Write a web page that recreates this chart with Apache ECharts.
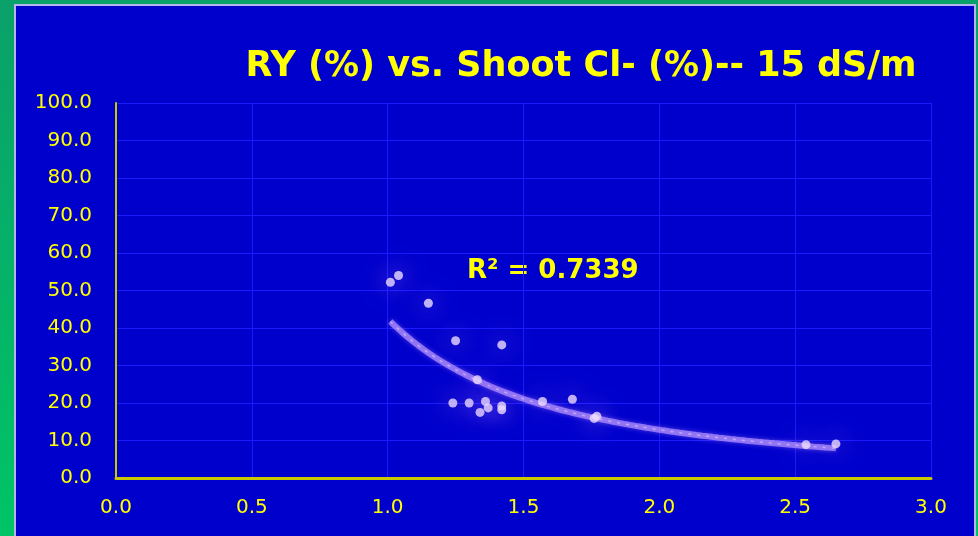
<!DOCTYPE html>
<html>
<head>
<meta charset="utf-8">
<script src="https://cdn.jsdelivr.net/npm/echarts@6/dist/echarts.min.js"></script>
<style>
  html, body { margin: 0; padding: 0; }
  body { width: 978px; height: 536px; position: relative; overflow: hidden;
         background: linear-gradient(180deg, #0aa06a 0%, #00c466 100%); }
  #panel { position: absolute; left: 14px; top: 4px; width: 958px; height: 540px;
           background: #0000cc; border: 2px solid #b4b4ee; }
  #chart { position: absolute; left: 0; top: 0; width: 978px; height: 536px; }
</style>
</head>
<body>
<div id="panel"></div>
<div id="chart"></div>
<script>
// Shoot chloride (%) and relative yield (%) at 15 dS/m
const shootCl = [1.01, 1.04, 1.15, 1.25, 1.42, 1.33, 1.24, 1.30, 1.34, 1.36, 1.37, 1.42, 1.42, 1.57, 1.68, 1.76, 1.77, 2.54, 2.65];
const ry      = [52.2, 54.0, 46.6, 36.6, 35.5, 26.2, 20.0, 20.0, 17.5, 20.4, 18.7, 19.2, 18.2, 20.4, 21.0, 15.9, 16.5, 8.9, 9.1];

const xTicks = [0, 0.5, 1.0, 1.5, 2.0, 2.5, 3.0];
const yTicks = [0, 10, 20, 30, 40, 50, 60, 70, 80, 90, 100];
const rSquaredText = 'R\u00b2 = 0.7339';
const titleText = 'RY (%) vs. Shoot Cl- (%)-- 15 dS/m';

// Power trendline y = a * x^b, least squares in log-log space
function powerFit(xs, ys) {
  const n = xs.length;
  let sx = 0, sy = 0, sxx = 0, sxy = 0;
  for (let i = 0; i < n; i++) {
    const lx = Math.log(xs[i]), ly = Math.log(ys[i]);
    sx += lx; sy += ly; sxx += lx * lx; sxy += lx * ly;
  }
  const b = (n * sxy - sx * sy) / (n * sxx - sx * sx);
  const a = Math.exp((sy - b * sx) / n);
  return { a, b };
}
const fit = powerFit(shootCl, ry);
const xMin = Math.min(...shootCl), xMax = Math.max(...shootCl);
const trend = [];
for (let i = 0; i <= 80; i++) {
  const x = xMin + (xMax - xMin) * i / 80;
  trend.push([x, fit.a * Math.pow(x, fit.b)]);
}

const chart = echarts.init(document.getElementById('chart'), null, { renderer: 'canvas' });
const yellow = '#ffff00';
const axisYellow = '#c8c800';
const gridBlue = '#1a1aff';

chart.setOption({
  backgroundColor: 'transparent',
  animation: false,
  title: {
    text: titleText,
    left: 576, top: 44, textAlign: 'center',
    textStyle: { color: yellow, fontFamily: 'DejaVu Sans', fontWeight: 'bold', fontSize: 35 }
  },
  grid: { left: 116, right: 47, top: 103, bottom: 58 },
  xAxis: {
    type: 'value', min: 0, max: 3, interval: 0.5,
    axisLine: { onZero: false, lineStyle: { color: axisYellow, width: 3 } },
    axisTick: { show: false },
    axisLabel: { color: yellow, fontFamily: 'DejaVu Sans', fontSize: 20, margin: 20,
                 formatter: v => v.toFixed(1) },
    splitLine: { show: true, lineStyle: { color: gridBlue, width: 1 } }
  },
  yAxis: {
    type: 'value', min: 0, max: 100, interval: 10,
    axisLine: { show: true, lineStyle: { color: axisYellow, width: 2 } },
    axisTick: { show: false },
    axisLabel: { color: yellow, fontFamily: 'DejaVu Sans', fontSize: 20, margin: 24,
                 formatter: v => v.toFixed(1) },
    splitLine: { show: true, lineStyle: { color: gridBlue, width: 1 } }
  },
  series: [
    {
      type: 'line', data: trend, showSymbol: false, smooth: false, z: 2,
      lineStyle: { color: 'rgba(185,150,255,0.7)', width: 6,
                   shadowBlur: 5, shadowColor: 'rgba(180,140,255,0.6)' }
    },
    {
      type: 'line', data: trend, showSymbol: false, z: 3,
      lineStyle: { color: 'rgba(235,220,255,0.5)', width: 1.5, type: [3, 6] }
    },
    {
      type: 'scatter', z: 5,
      data: shootCl.map((x, i) => [x, ry[i]]),
      symbol: 'circle', symbolSize: 9,
      itemStyle: { color: '#ecdcff', shadowBlur: 24, shadowColor: 'rgba(210,150,255,1)' }
    }
  ],
  graphic: [{
    type: 'text', left: 467, top: 258,
    style: { text: rSquaredText, fill: yellow, font: 'bold 26px "DejaVu Sans"' }
  }]
});
</script>
</body>
</html>
